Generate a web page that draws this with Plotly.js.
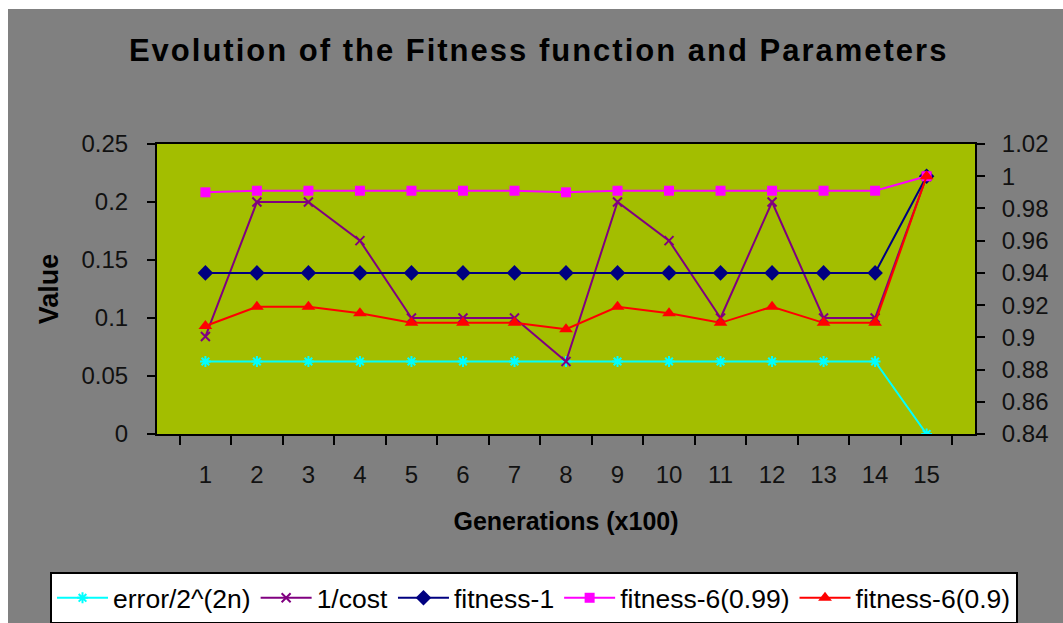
<!DOCTYPE html>
<html>
<head>
<meta charset="utf-8">
<script src="https://cdn.plot.ly/plotly-3.0.1.min.js"></script>
<style>
  html, body { margin: 0; padding: 0; background: #ffffff; width: 1063px; height: 623px; overflow: hidden; }
  #chart { position: absolute; left: 8px; top: 9px; width: 1055px; height: 650px; }
  .gtitle { letter-spacing: 2px; }
</style>
</head>
<body>
<div id="chart"></div>
<script>
const generations = ["1","2","3","4","5","6","7","8","9","10","11","12","13","14","15"];
const errorVals   = [0.0625,0.0625,0.0625,0.0625,0.0625,0.0625,0.0625,0.0625,0.0625,0.0625,0.0625,0.0625,0.0625,0.0625,0];
const invCost     = [0.084,0.2,0.2,0.1667,0.1,0.1,0.1,0.0625,0.2,0.1667,0.1,0.2,0.1,0.1,0.222];
const fitness1    = [0.94,0.94,0.94,0.94,0.94,0.94,0.94,0.94,0.94,0.94,0.94,0.94,0.94,0.94,1.0];
const fitness6_99 = [0.990,0.991,0.991,0.991,0.991,0.991,0.991,0.990,0.991,0.991,0.991,0.991,0.991,0.991,1.0];
const fitness6_9  = [0.907,0.919,0.919,0.915,0.909,0.909,0.909,0.905,0.919,0.915,0.909,0.919,0.909,0.909,1.0];
const seriesNames = ["error/2^(2n)","1/cost","fitness-1","fitness-6(0.99)","fitness-6(0.9)"];

const FONT = "Liberation Sans, Arial, sans-serif";

const traces = [
  {x: generations, y: errorVals, name: seriesNames[0], mode: "lines+markers", yaxis: "y",
   line: {color: "#00ffff", width: 2}, marker: {symbol: "asterisk-open", size: 9, color: "#00ffff", line: {color: "#00ffff", width: 2}}},
  {x: generations, y: invCost, name: seriesNames[1], mode: "lines+markers", yaxis: "y",
   line: {color: "#800080", width: 2}, marker: {symbol: "x-thin-open", size: 9, color: "#800080", line: {color: "#800080", width: 2}}},
  {x: generations, y: fitness1, name: seriesNames[2], mode: "lines+markers", yaxis: "y2",
   line: {color: "#000080", width: 2}, marker: {symbol: "diamond", size: 12, color: "#000080"}},
  {x: generations, y: fitness6_99, name: seriesNames[3], mode: "lines+markers", yaxis: "y2",
   line: {color: "#ff00ff", width: 2}, marker: {symbol: "square", size: 10, color: "#ff00ff"}},
  {x: generations, y: fitness6_9, name: seriesNames[4], mode: "lines+markers", yaxis: "y2",
   line: {color: "#ff0000", width: 2}, marker: {symbol: "triangle-up", size: 12, color: "#ff0000"}}
];

const layout = {
  width: 1055, height: 650,
  paper_bgcolor: "#808080",
  plot_bgcolor: "#a3be00",
  margin: {l: 149, r: 88, t: 135, b: 225, pad: 0},
  font: {family: FONT, color: "#000000", size: 24},
  title: {text: "Evolution of the Fitness function and Parameters",
          font: {family: FONT, size: 31, color: "#000000", weight: "bold"},
          x: 0.503, xanchor: "center", xref: "container",
          y: 1 - 41/650, yanchor: "middle", yref: "container"},
  showlegend: true,
  legend: {orientation: "h", x: -0.1308, xanchor: "left", y: -0.476, yanchor: "top",
           bgcolor: "#ffffff", bordercolor: "#000000", borderwidth: 2,
           font: {family: FONT, size: 26.5, color: "#000000"}, itemwidth: 51, traceorder: "normal"},
  xaxis: {type: "category", showgrid: false, zeroline: false,
          showline: true, linecolor: "#000000", linewidth: 2, mirror: true,
          ticks: "outside", ticklen: 9, tickwidth: 2, tickcolor: "#000000", tickson: "boundaries",
          tickfont: {family: FONT, size: 24, color: "#111111"}, ticklabelstandoff: 18,
          title: {text: "Generations (x100)", font: {family: FONT, size: 25, weight: "bold", color: "#000000"}, standoff: 26}},
  yaxis: {range: [0, 0.25], dtick: 0.05, showgrid: false, zeroline: false,
          showline: true, linecolor: "#000000", linewidth: 2, mirror: true,
          ticks: "outside", ticklen: 8, tickwidth: 2, tickcolor: "#000000",
          tickfont: {family: FONT, size: 24, color: "#111111"}, ticklabelstandoff: 14,
          title: {text: "Value", font: {family: FONT, size: 27, weight: "bold", color: "#000000"}, standoff: 15}},
  yaxis2: {range: [0.84, 1.02], dtick: 0.02, overlaying: "y", side: "right", showgrid: false, zeroline: false,
           showline: true, linecolor: "#000000", linewidth: 2,
           ticks: "outside", ticklen: 8, tickwidth: 2, tickcolor: "#000000",
           tickfont: {family: FONT, size: 24, color: "#111111"}, ticklabelstandoff: 12}
};

Plotly.newPlot("chart", traces, layout, {displayModeBar: false, staticPlot: true});
</script>
</body>
</html>
